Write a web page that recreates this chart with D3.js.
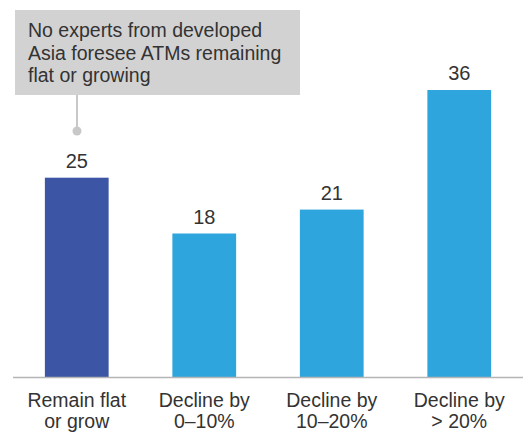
<!DOCTYPE html>
<html>
<head>
<meta charset="utf-8">
<script src="https://cdn.jsdelivr.net/npm/d3@7"></script>
<style>
  body { margin: 0; background: #fff; }
  svg { display: block; font-family: "Liberation Sans", Arial, sans-serif; }
</style>
</head>
<body>
<svg id="chart" width="523" height="432"></svg>
<script>
// chart data
var categories = ['Remain flat|or grow', 'Decline by|0\u201310%', 'Decline by|10\u201320%', 'Decline by|> 20%'];
var values = [25, 18, 21, 36];
var barColors = ['#3c55a5', '#2ea6dd', '#2ea6dd', '#2ea6dd'];
var noteLines = ['No experts from developed', 'Asia foresee ATMs remaining', 'flat or growing'];

var svg = d3.select('#chart');
var width = 523, baseY = 377;

var x = d3.scaleBand()
  .domain(categories)
  .range([13, 523])
  .paddingInner(0.5)
  .paddingOuter(0.25);

var y = d3.scaleLinear()
  .domain([0, 36])
  .range([baseY, baseY - 287]);

// bars
svg.selectAll('rect.bar')
  .data(values)
  .enter().append('rect')
  .attr('class', 'bar')
  .attr('x', (d, i) => x(categories[i]))
  .attr('y', d => y(d))
  .attr('width', x.bandwidth())
  .attr('height', d => baseY - y(d))
  .attr('fill', (d, i) => barColors[i]);

// value labels
svg.selectAll('text.val')
  .data(values)
  .enter().append('text')
  .attr('class', 'val')
  .attr('x', (d, i) => x(categories[i]) + x.bandwidth() / 2)
  .attr('y', d => y(d) - 10)
  .attr('text-anchor', 'middle')
  .attr('font-size', 20)
  .attr('fill', '#333')
  .text(d => d);

// baseline
svg.append('line')
  .attr('x1', 13).attr('x2', width)
  .attr('y1', baseY + 0.5).attr('y2', baseY + 0.5)
  .attr('stroke', '#b5b5b5')
  .attr('stroke-width', 1.5);

// category labels
var cat = svg.selectAll('text.cat')
  .data(categories)
  .enter().append('text')
  .attr('class', 'cat')
  .attr('text-anchor', 'middle')
  .attr('font-size', 19.5)
  .attr('fill', '#333');
cat.each(function(d) {
  var t = d3.select(this);
  d.split('|').forEach((s, i) => {
    t.append('tspan')
      .attr('x', x(d) + x.bandwidth() / 2)
      .attr('y', 407 + i * 21)
      .text(s);
  });
});

// annotation
svg.append('rect')
  .attr('x', 15).attr('y', 10)
  .attr('width', 285).attr('height', 85)
  .attr('fill', '#d2d2d2');
svg.append('line')
  .attr('x1', 77).attr('x2', 77)
  .attr('y1', 95).attr('y2', 130)
  .attr('stroke', '#c8c8c8')
  .attr('stroke-width', 2);
svg.append('circle')
  .attr('cx', 77).attr('cy', 131)
  .attr('r', 4.5)
  .attr('fill', '#c8c8c8');
svg.selectAll('text.note')
  .data(noteLines)
  .enter().append('text')
  .attr('class', 'note')
  .attr('x', 28)
  .attr('y', (d, i) => 37 + i * 22.5)
  .attr('font-size', 19.5)
  .attr('fill', '#333')
  .text(d => d);
</script>
</body>
</html>
